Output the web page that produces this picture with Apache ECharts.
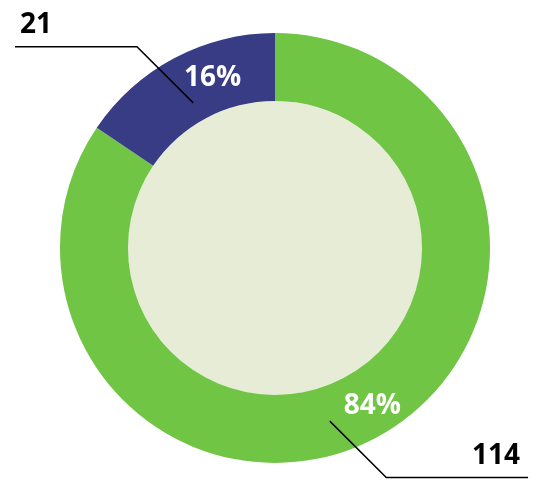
<!DOCTYPE html>
<html>
<head>
<meta charset="utf-8">
<script src="https://cdn.jsdelivr.net/npm/echarts@6/dist/echarts.min.js"></script>
<style>html,body{margin:0;padding:0;background:#fff}#c{width:549px;height:492px}</style>
</head>
<body>
<div id="c"></div>
<script>
const categories = ['A', 'B'];
const values = [114, 21];
const colors = ['#71c545', '#373c84'];
const lineLengths = [90, 58];
const lineLengths2 = [131, 153];
const pctOffsets = [[11, -4], [24, -8]];
const lineStartShift = [[-25, 23], [-2, 5]];

const chart = echarts.init(document.getElementById('c'), null, {renderer: 'canvas'});
const center = [275, 248];
const font = {fontFamily: 'Open Sans', fontWeight: 'bold', fontSize: 28};

const ringData = categories.map((c, i) => ({
  name: c, value: values[i], itemStyle: {color: colors[i]},
  label: {offset: pctOffsets[i]}
}));
const labelData = categories.map((c, i) => ({
  name: c, value: values[i],
  labelLine: {length: lineLengths[i], length2: lineLengths2[i]}
}));

chart.setOption({
  animation: false,
  series: [
    {
      type: 'pie', center: center, radius: [147, 215], startAngle: 90, clockwise: true,
      silent: true, data: ringData,
      label: Object.assign({position: 'inside', color: '#fff',
        formatter: p => Math.round(p.percent) + '%'}, font),
      labelLine: {show: false}, z: 2
    },
    {
      type: 'pie', center: center, radius: [0, 147], silent: true,
      data: [{value: 1, itemStyle: {color: '#e6ecd6'}}],
      label: {show: false}, labelLine: {show: false}, z: 1
    },
    {
      type: 'pie', center: center, radius: [0, 170], startAngle: 90, clockwise: true,
      silent: true, data: labelData,
      itemStyle: {color: 'rgba(0,0,0,0)'},
      label: Object.assign({position: 'outside', color: '#000', width: 70, lineHeight: 28,
        overflow: 'none', formatter: p => String(p.value)}, font),
      labelLine: {show: true, smooth: false, lineStyle: {color: '#000', width: 1.5}},
      labelLayout: function (params) {
        const pts = params.labelLinePoints;
        if (!pts) return {};
        const shift = lineStartShift[params.dataIndex] || [0, 0];
        const p0 = [pts[0][0] + shift[0], pts[0][1] + shift[1]];
        const p2 = pts[2];
        const isLeft = p2[0] < pts[1][0];
        const d = Math.abs(pts[1][1] - p0[1]);
        const p1 = [p0[0] + (isLeft ? -d : d), pts[1][1]];
        return {
          x: isLeft ? p2[0] + 5 : p2[0] - 8,
          y: p2[1] - 8,
          align: isLeft ? 'left' : 'right',
          verticalAlign: 'bottom',
          labelLinePoints: [p0, p1, p2]
        };
      },
      z: 3
    }
  ]
});
</script>
</body>
</html>
